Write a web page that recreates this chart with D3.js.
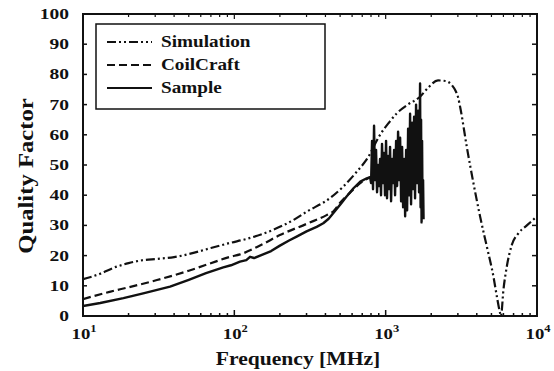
<!DOCTYPE html>
<html>
<head>
<meta charset="utf-8">
<script src="https://cdn.jsdelivr.net/npm/d3@7/dist/d3.min.js"></script>
<style>
  body { margin: 0; background: #fff; }
  text { font-family: "Liberation Serif", "Times New Roman", serif; font-weight: bold; fill: #111; }
</style>
</head>
<body>
<div id="chart"></div>
<script>
// data (frequency in MHz, quality factor)
var simFreq = [10, 13, 16, 20, 25, 30.8, 40, 50, 70, 93.6, 120, 180, 250, 300, 428, 523, 650, 753, 918, 1050, 1183, 1400, 1687, 1900, 2218, 2500, 2735, 2900, 3006, 3133, 3436, 3802, 4209, 4660, 5157, 5450, 5700, 5780, 5999, 6313, 6813, 7540, 8570, 10000]
var simQ = [12.2, 14, 16, 17.5, 18.5, 18.9, 19.5, 20.5, 22.5, 24.2, 25.5, 28.5, 32, 34.5, 39, 42.8, 48, 52, 60, 64, 67.1, 70, 72.6, 75.5, 78, 77.8, 76.5, 74.5, 72.5, 68.2, 56, 44, 32.9, 23, 13, 6, 1, 0, 8.6, 16.3, 23.5, 27.4, 30, 33]

var coilFreq = [10, 15, 20, 30.8, 50, 75, 93.6, 109, 150, 200, 300, 407, 450, 500, 600, 700, 800, 900, 1000]
var coilQ = [5.6, 8, 9.5, 11.9, 15, 18, 19.6, 20.4, 23.5, 26.8, 30.5, 33.4, 34.6, 37.5, 41.5, 44.5, 46, 46.8, 47]

var sampleFreq = [10, 13, 18.5, 25, 37.6, 50, 65, 84.5, 95, 109, 120, 127, 135, 155, 175, 200, 230, 258, 300, 350, 387, 420, 450, 500, 550, 613, 680, 750, 789,
  801, 813, 825, 838, 851, 864, 877, 891, 904, 918, 932, 946, 961, 975, 990, 1006, 1021, 1037, 1053, 1069,
  1086, 1102, 1119, 1137, 1154, 1172, 1190, 1208, 1227, 1246, 1265, 1284, 1304, 1324, 1345, 1365, 1386, 1407, 1428, 1450,
  1472, 1495, 1518, 1541, 1564, 1588, 1613, 1637, 1662, 1688, 1701, 1714, 1727, 1740, 1753, 1767, 1780]
var sampleQ = [3.3, 4.3, 5.9, 7.5, 9.7, 12, 14.2, 16.1, 16.8, 18, 18.5, 19.6, 19.2, 20.4, 21.5, 23.3, 25, 26.3, 28, 29.5, 30.7, 32.2, 34, 36.8, 39.5, 42.3, 44.5, 45.6, 46,
  44, 58, 42, 63, 45, 55, 41, 50, 43, 52, 40, 57, 44, 54, 40, 58, 39, 53, 42, 56,
  38, 52, 44, 55, 40, 58, 43, 61, 45, 59, 38, 56, 36, 52, 33, 55, 35, 62, 40, 67,
  37, 64, 42, 66, 39, 70, 44, 68, 41, 77, 36, 65, 31, 58, 34, 45, 32]

var yTicks = [0, 10, 20, 30, 40, 50, 60, 70, 80, 90, 100]
var xMajor = [10, 100, 1000, 10000]
var xExp = ['1', '2', '3', '4']
var legendNames = ['Simulation', 'CoilCraft', 'Sample']

var W = 554, H = 371
var pL = 83, pR = 537, pT = 14, pB = 316

var x = d3.scaleLog().domain([10, 10000]).range([pL, pR])
var y = d3.scaleLinear().domain([0, 100]).range([pB, pT])

var svg = d3.select('#chart').append('svg')
  .attr('width', W)
  .attr('height', H)

svg.append('clipPath').attr('id', 'plotclip')
  .append('rect')
  .attr('x', pL).attr('y', pT)
  .attr('width', pR - pL).attr('height', pB - pT)

function toPts(fs, qs) {
  return fs.map(function(f, i) { return [f, qs[i]] })
}

var smooth = d3.line()
  .x(function(d) { return x(d[0]) })
  .y(function(d) { return y(d[1]) })
  .curve(d3.curveMonotoneX)
var straight = d3.line()
  .x(function(d) { return x(d[0]) })
  .y(function(d) { return y(d[1]) })

var plot = svg.append('g').attr('clip-path', 'url(#plotclip)')

// simulation: dash dot dot
plot.append('path')
  .attr('d', smooth(toPts(simFreq, simQ)))
  .attr('fill', 'none')
  .attr('stroke', '#111')
  .attr('stroke-width', 2.2)
  .attr('stroke-dasharray', '9,3,2,3,2,3')

// coilcraft: dashed
plot.append('path')
  .attr('d', smooth(toPts(coilFreq, coilQ)))
  .attr('fill', 'none')
  .attr('stroke', '#111')
  .attr('stroke-width', 2.2)
  .attr('stroke-dasharray', '8,4')

// sample: solid, noisy at the top end
plot.append('path')
  .attr('d', straight(toPts(sampleFreq, sampleQ)))
  .attr('fill', 'none')
  .attr('stroke', '#111')
  .attr('stroke-width', 2.4)
  .attr('stroke-linejoin', 'round')

// frame
svg.append('rect')
  .attr('x', pL).attr('y', pT)
  .attr('width', pR - pL).attr('height', pB - pT)
  .attr('fill', 'none')
  .attr('stroke', '#111')
  .attr('stroke-width', 2)

// y ticks, inside on both sides
var yt = svg.append('g')
yTicks.slice(1, -1).forEach(function(v) {
  yt.append('line').attr('x1', pL).attr('x2', pL + 4).attr('y1', y(v)).attr('y2', y(v))
    .attr('stroke', '#111').attr('stroke-width', 1.5)
  yt.append('line').attr('x1', pR - 5).attr('x2', pR).attr('y1', y(v)).attr('y2', y(v))
    .attr('stroke', '#111').attr('stroke-width', 1.5)
})

// x ticks (log minor ones too)
var minor = []
xMajor.slice(0, -1).forEach(function(d) {
  for (var k = 2; k <= 9; k++) minor.push(d * k)
})
var xt = svg.append('g')
minor.forEach(function(v) {
  xt.append('line').attr('x1', x(v)).attr('x2', x(v)).attr('y1', pB).attr('y2', pB - 3)
    .attr('stroke', '#111').attr('stroke-width', 1.5)
  xt.append('line').attr('x1', x(v)).attr('x2', x(v)).attr('y1', pT).attr('y2', pT + 3)
    .attr('stroke', '#111').attr('stroke-width', 1.2)
})
xMajor.slice(1, -1).forEach(function(v) {
  xt.append('line').attr('x1', x(v)).attr('x2', x(v)).attr('y1', pB).attr('y2', pB - 6)
    .attr('stroke', '#111').attr('stroke-width', 1.5)
  xt.append('line').attr('x1', x(v)).attr('x2', x(v)).attr('y1', pT).attr('y2', pT + 5)
    .attr('stroke', '#111').attr('stroke-width', 1.2)
})

// y tick labels
yTicks.forEach(function(v) {
  svg.append('text')
    .attr('transform', 'translate(69,' + (y(v) + 5) + ') scale(1.3,1)')
    .attr('text-anchor', 'end')
    .style('font-size', '15px')
    .text(v)
})

// x tick labels 10^n
xMajor.forEach(function(v, i) {
  var t = svg.append('text')
    .attr('transform', 'translate(' + (x(v) + 1) + ',339) scale(1.25,1)')
    .attr('text-anchor', 'middle')
    .style('font-size', '15px')
  t.append('tspan').text('10')
  t.append('tspan').attr('dy', -7).style('font-size', '10px').text(xExp[i])
})

// axis titles
svg.append('text')
  .attr('transform', 'translate(298,365) scale(1.2,1)')
  .attr('text-anchor', 'middle')
  .style('font-size', '18px')
  .text('Frequency [MHz]')

svg.append('text')
  .attr('transform', 'translate(33,176) rotate(-90) scale(1.3,1.15)')
  .attr('text-anchor', 'middle')
  .style('font-size', '19px')
  .text('Quality Factor')

// legend
var lg = svg.append('g')
lg.append('rect')
  .attr('x', 96).attr('y', 24).attr('width', 229).attr('height', 85)
  .attr('fill', '#fff').attr('stroke', '#111').attr('stroke-width', 1.5)
var dashes = ['9,3,2,3,2,3', '8,4', null]
var rowY = [42, 65, 88]
legendNames.forEach(function(name, i) {
  var ln = lg.append('line')
    .attr('x1', 107).attr('x2', 152).attr('y1', rowY[i]).attr('y2', rowY[i])
    .attr('stroke', '#111').attr('stroke-width', 2.2)
  if (dashes[i]) ln.attr('stroke-dasharray', dashes[i])
  lg.append('text')
    .attr('transform', 'translate(161,' + (rowY[i] + 5) + ') scale(1.2,1)')
    .style('font-size', '16px')
    .text(name)
})
</script>
</body>
</html>
